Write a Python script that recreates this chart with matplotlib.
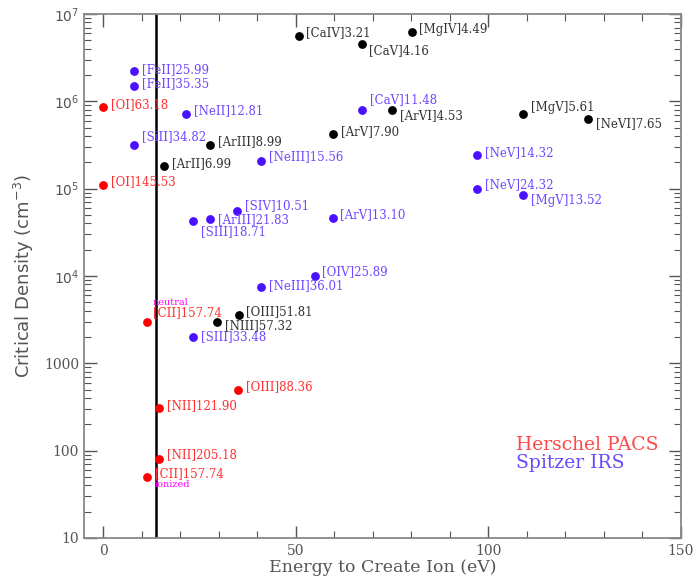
import matplotlib
matplotlib.use('Agg')
import matplotlib.pyplot as plt
from matplotlib.ticker import LogLocator, MultipleLocator, NullFormatter

# Herschel PACS lines (red)
pacs_names = ["[OI]63.18", "[OI]145.53", "[CII]157.74", "[CII]157.74",
              "[NII]121.90", "[NII]205.18", "[OIII]88.36"]
pacs_energy = [0, 0, 11.3, 11.3, 14.5, 14.5, 35.1]
pacs_ncrit = [8.5e5, 1.1e5, 3.0e3, 50, 305, 80, 500]

# Spitzer IRS lines (blue)
irs_names = ["[FeII]25.99", "[FeII]35.35", "[SiII]34.82", "[NeII]12.81",
             "[NeIII]15.56", "[SIV]10.51", "[ArIII]21.83", "[SIII]18.71",
             "[ArV]13.10", "[CaV]11.48", "[NeV]14.32", "[NeV]24.32",
             "[MgV]13.52", "[OIV]25.89", "[NeIII]36.01", "[SIII]33.48"]
irs_energy = [7.9, 7.9, 8.1, 21.5, 40.9, 34.7, 27.6, 23.4,
              59.7, 67.3, 97.0, 97.0, 109.1, 55.0, 40.9, 23.4]
irs_ncrit = [2.2e6, 1.5e6, 3.2e5, 7.2e5, 2.1e5, 5.6e4, 4.5e4, 4.3e4,
             4.6e4, 8.0e5, 2.4e5, 1.0e5, 8.4e4, 1.0e4, 7.5e3, 2.0e3]

# other lines (black)
other_names = ["[CaIV]3.21", "[CaV]4.16", "[MgIV]4.49", "[ArVI]4.53",
               "[ArV]7.90", "[MgV]5.61", "[NeVI]7.65", "[ArIII]8.99",
               "[ArII]6.99", "[OIII]51.81", "[NIII]57.32"]
other_energy = [50.9, 67.3, 80.2, 75.0, 59.7, 109.1, 125.9, 27.6, 15.9, 35.2, 29.5]
other_ncrit = [5.6e6, 4.5e6, 6.2e6, 8.0e5, 4.2e5, 7.1e5, 6.3e5, 3.2e5, 1.83e5, 3.6e3, 3.0e3]

h_ionization = 13.6  # eV

y_ticks = [10, 100, 1000, 1e4, 1e5, 1e6, 1e7]
y_ticklabels = ["10", "100", "1000", "$10^4$", "$10^5$", "$10^6$", "$10^7$"]

# label offsets (pixels), same order as the names
pacs_off = [(8, 3), (8, 3), (6, 9), (8, 3), (8, 3), (8, 4), (8, 3)]
irs_off = [(8, 2), (8, 2), (8, 8), (8, 3), (8, 4), (8, 5), (8, -1), (8, -11),
           (7, 3), (8, 10), (8, 3), (8, 4), (8, -5), (7, 4), (8, 1), (8, 0)]
other_off = [(7, 3), (7, -6), (7, 3), (8, -6), (8, 3), (8, 7), (8, -5),
             (8, 3), (8, 2), (7, 3), (8, -4)]

serif = 'DejaVu Serif'
gray = '#555555'

fig = plt.figure(figsize=(6.96, 5.83), dpi=100)
ax = fig.add_axes([0.1207, 0.0772, 0.8573, 0.8988])

ax.axvline(h_ionization, color='black', lw=1.8, zorder=1)

groups = [
    (pacs_energy, pacs_ncrit, pacs_names, pacs_off, '#ff0000', '#ff3030'),
    (irs_energy, irs_ncrit, irs_names, irs_off, '#4a10ff', '#7048ff'),
    (other_energy, other_ncrit, other_names, other_off, '#000000', '#333333'),
]
for xs, ys, names, offs, dot_c, txt_c in groups:
    ax.scatter(xs, ys, s=40, color=dot_c, zorder=3, linewidths=0)
    for x, y, name, (dx, dy) in zip(xs, ys, names, offs):
        ax.annotate(name, (x, y), xytext=(dx, dy), textcoords='offset pixels',
                    ha='left', va='center', color=txt_c, fontsize=8.5,
                    family=serif, zorder=4)

# neutral / ionized tags on the [CII] labels
ax.annotate('neutral', (pacs_energy[2], pacs_ncrit[2]), xytext=(6, 19),
            textcoords='offset pixels', ha='left', va='center',
            color='#ff00ff', fontsize=7, family=serif)
ax.annotate('ionized', (pacs_energy[3], pacs_ncrit[3]), xytext=(8, -8),
            textcoords='offset pixels', ha='left', va='center',
            color='#ff00ff', fontsize=7, family=serif)

ax.text(0.724, 0.177, 'Herschel PACS', transform=ax.transAxes, color='#ff4848',
        fontsize=13.5, family=serif, va='center')
ax.text(0.724, 0.143, 'Spitzer IRS', transform=ax.transAxes, color='#6a48ff',
        fontsize=13.5, family=serif, va='center')

ax.set_yscale('log')
ax.set_xlim(-5, 150)
ax.set_ylim(10, 1e7)
ax.set_yticks(y_ticks)
ax.set_yticklabels(y_ticklabels)
ax.yaxis.set_minor_locator(LogLocator(base=10, subs=range(2, 10)))
ax.yaxis.set_minor_formatter(NullFormatter())
ax.xaxis.set_major_locator(MultipleLocator(50))
ax.xaxis.set_minor_locator(MultipleLocator(10))

ax.tick_params(which='both', direction='in', top=True, right=True, colors=gray,
               labelcolor=gray, labelsize=10)
ax.tick_params(which='major', length=9, width=1)
ax.tick_params(which='minor', length=5, width=0.8)
for lab in ax.get_xticklabels() + ax.get_yticklabels():
    lab.set_family(serif)
ax.tick_params(axis='x', pad=4)

for sp in ax.spines.values():
    sp.set_color('#888888')
    sp.set_linewidth(1.3)

ax.set_xlabel('Energy to Create Ion (eV)', color=gray, fontsize=12.5,
              family=serif, labelpad=1)
ax.set_ylabel('Critical Density (cm$^{-3}$)', color=gray, fontsize=13,
              family='DejaVu Sans', labelpad=6)

fig.savefig('out.png', dpi=100)
